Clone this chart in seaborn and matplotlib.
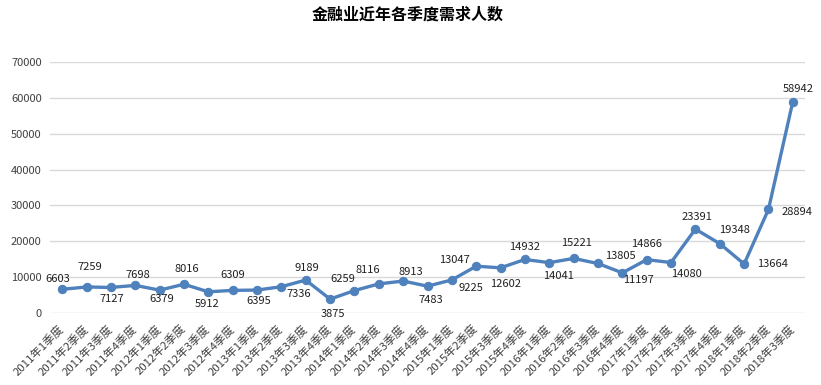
import matplotlib
matplotlib.use("Agg")
import matplotlib.pyplot as plt
import seaborn as sns
import pandas as pd

# ---- data ----
quarters = [
    "2011年1季度", "2011年2季度", "2011年3季度", "2011年4季度",
    "2012年1季度", "2012年2季度", "2012年3季度", "2012年4季度",
    "2013年1季度", "2013年2季度", "2013年3季度", "2013年4季度",
    "2014年1季度", "2014年2季度", "2014年3季度", "2014年4季度",
    "2015年1季度", "2015年2季度", "2015年3季度", "2015年4季度",
    "2016年1季度", "2016年2季度", "2016年3季度", "2016年4季度",
    "2017年1季度", "2017年2季度", "2017年3季度", "2017年4季度",
    "2018年1季度", "2018年2季度", "2018年3季度",
]
demand = [
    6603, 7259, 7127, 7698,
    6379, 8016, 5912, 6309,
    6395, 7336, 9189, 3875,
    6259, 8116, 8913, 7483,
    9225, 13047, 12602, 14932,
    14041, 15221, 13805, 11197,
    14866, 14080, 23391, 19348,
    13664, 28894, 58942,
]
y_ticks = [0, 10000, 20000, 30000, 40000, 50000, 60000, 70000]
title = "金融业近年各季度需求人数"

# label placement (pixel offsets: dx right, dy down)
label_offsets = [
    (-4, -10), (3, -20), (1, 12), (3, -10),
    (2, 9), (3, -15), (-1, 12), (0, -15),
    (2, 11), (17, 7), (1, -12), (3, 15),
    (-12, -12), (-11, -14), (8, -9), (3, 14),
    (19, 8), (-22, -6), (5, 16), (0, -12),
    (9, 13), (3, -15), (22, -7), (16, 7),
    (0, -16), (15, 11), (2, -12), (15, -14),
    (28, 0), (29, 3), (5, -13),
]

sns.set_theme(style="white")
plt.rcParams["font.family"] = ["Noto Sans CJK SC", "DejaVu Sans"]

fig = plt.figure(figsize=(8.21, 3.85), dpi=100)
ax = fig.add_axes([50 / 821, 1 - 313 / 385, 755 / 821, 251 / 385])

df = pd.DataFrame({"idx": range(len(quarters)), "val": demand})
line_color = "#4F81BD"
sns.lineplot(data=df, x="idx", y="val", ax=ax, color=line_color,
             linewidth=2.4, marker="o", markersize=6,
             markeredgecolor=line_color, markerfacecolor=line_color)

ax.set_xlim(-0.5, len(quarters) - 0.5)
ax.set_ylim(0, 70000)
ax.set_yticks(y_ticks)
ax.set_yticklabels([str(v) for v in y_ticks], fontsize=8, color="#404040")
ax.set_xticks(range(len(quarters)))
ax.set_xticklabels(quarters, rotation=45, ha="right", va="center",
                   rotation_mode="anchor", fontsize=8.2, color="#404040")

ax.tick_params(axis="both", length=0)
ax.tick_params(axis="y", pad=6)
ax.tick_params(axis="x", pad=10)
ax.grid(axis="y", color="#D9D9D9", linewidth=1)
ax.grid(axis="x", visible=False)
for s in ax.spines.values():
    s.set_visible(False)
ax.set_xlabel("")
ax.set_ylabel("")

for i, (v, (dx, dy)) in enumerate(zip(demand, label_offsets)):
    ax.annotate(str(v), (i, v), xytext=(dx, -dy), textcoords="offset pixels",
                ha="center", va="center", fontsize=8, color="#202020")

fig.text(0.497, 1 - 15 / 385, title, ha="center", va="center",
         fontsize=11.5, fontweight="bold", color="black")

fig.savefig("out.png", dpi=100)
